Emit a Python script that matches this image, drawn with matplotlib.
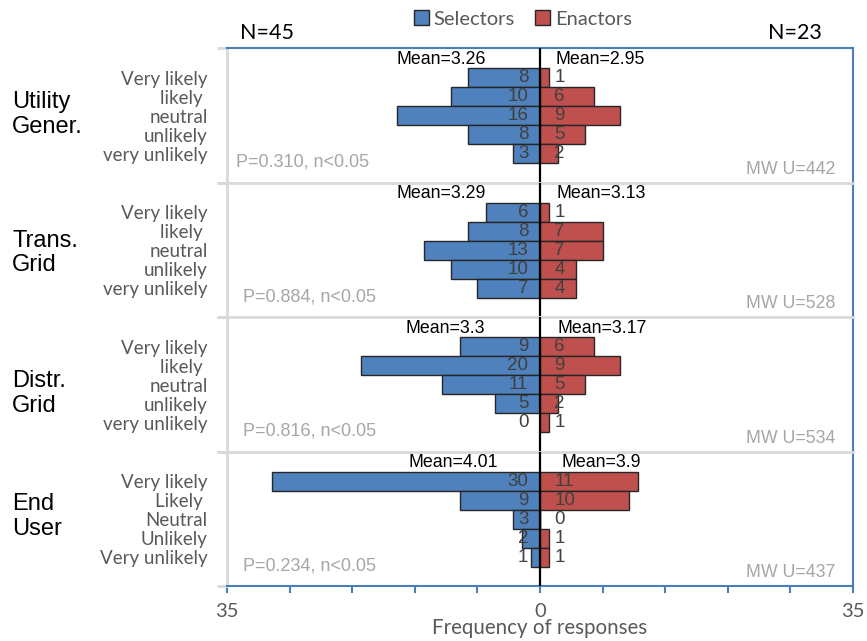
import matplotlib
matplotlib.use("Agg")
import matplotlib.pyplot as plt
from matplotlib.patches import Patch

# ---- data -------------------------------------------------------------
groups = ["Utility\nGener.", "Trans.\nGrid", "Distr.\nGrid", "End\nUser"]
levels_lower = ["Very likely", "likely ", "neutral", "unlikely", "very unlikely"]
levels_upper = ["Very likely", "Likely ", "Neutral", "Unlikely", "Very unlikely"]
selectors = [
    [8, 10, 16, 8, 3],
    [6, 8, 13, 10, 7],
    [9, 20, 11, 5, 0],
    [30, 9, 3, 2, 1],
]
enactors = [
    [1, 6, 9, 5, 2],
    [1, 7, 7, 4, 4],
    [6, 9, 5, 2, 1],
    [11, 10, 0, 1, 1],
]
mean_sel = ["3.26", "3.29", "3.3", "4.01"]
mean_enc = ["2.95", "3.13", "3.17", "3.9"]
p_values = ["0.310", "0.884", "0.816", "0.234"]
mw_u = [442, 528, 534, 437]
n_sel, n_enc = 45, 23
x_ticks = list(range(-35, 36, 7))
x_tick_labels = ["35", "", "", "", "", "0", "", "", "", "", "35"]

# ---- style --------------------------------------------------------------
BLUE = "#4F81BD"
RED = "#C0504D"
AXIS_BLUE = "#4A7EBB"
SEP_GREY = "#D9D9D9"
TXT_GREY = "#595959"
ARIAL = ["Liberation Sans", "DejaVu Sans"]
CALIBRI = ["Lato", "DejaVu Sans"]

fig = plt.figure(figsize=(8.67, 6.41), dpi=100)
W, H = 867, 641
L, R = 227 / W, 853 / W
B, T = 1 - 586 / H, 1 - 48 / H
ph = (T - B) / 4
YTOP = 7.05
ypos = [5.5, 4.5, 3.5, 2.5, 1.5]

# per-panel text placement (data units)
name_y = [3.55, 3.35, 3.05, 3.65]
mean_sel_x = [-11.1, -11.1, -10.6, -9.7]
mean_enc_x = [6.7, 6.8, 7.0, 6.9]
p_x = [-34.0, -33.2, -33.2, -33.2]

axes = []
for i in range(4):
    ax = fig.add_axes([L, T - (i + 1) * ph, R - L, ph])
    axes.append(ax)
    sel = selectors[i]
    enc = enactors[i]
    ax.barh(ypos, sel, left=[-v for v in sel], height=1.0, color=BLUE,
            edgecolor="#262626", linewidth=1.0, zorder=2)
    ax.barh(ypos, enc, left=0, height=1.0, color=RED,
            edgecolor="#262626", linewidth=1.0, zorder=2)
    ax.axvline(0, color="black", lw=1.6, zorder=4)

    for y, v in zip(ypos, sel):
        ax.text(-1.3, y, str(v), ha="right", va="center", fontsize=13.5,
                color="#404040", family=ARIAL, zorder=5)
    for y, v in zip(ypos, enc):
        ax.text(1.6, y, str(v), ha="left", va="center", fontsize=13.5,
                color="#404040", family=ARIAL, zorder=5)

    ax.text(mean_sel_x[i], 6.45, f"Mean={mean_sel[i]}", ha="center",
            va="center", fontsize=12.8, color="black", family=ARIAL, zorder=5)
    ax.text(mean_enc_x[i], 6.45, f"Mean={mean_enc[i]}", ha="center",
            va="center", fontsize=12.8, color="black", family=ARIAL, zorder=5)
    ax.text(p_x[i], 1.05, f"P={p_values[i]}, n<0.05", ha="left", va="center",
            fontsize=13, color="#A6A6A6", family=ARIAL)
    ax.text(33.0, 0.7, f"MW U={mw_u[i]}", ha="right", va="center",
            fontsize=12.8, color="#A6A6A6", family=ARIAL)

    ax.text(-0.343, name_y[i], groups[i], transform=ax.get_yaxis_transform(),
            ha="left", va="center", fontsize=17, color="black",
            family=ARIAL, linespacing=1.15)

    ax.set_xlim(-35, 35)
    ax.set_ylim(0, YTOP)

    labels = levels_upper if i == 3 else levels_lower
    ax.set_yticks(ypos)
    ax.set_yticklabels(labels, family=CALIBRI, fontsize=13.5, color=TXT_GREY)
    ax.tick_params(axis="y", which="major", length=0, pad=14)
    ax.set_yticks([0, YTOP], minor=True)
    ax.tick_params(axis="y", which="minor", length=7, width=2, color=SEP_GREY)

    ax.spines["left"].set_color(SEP_GREY)
    ax.spines["left"].set_linewidth(2)
    ax.spines["right"].set_color(AXIS_BLUE)
    ax.spines["right"].set_linewidth(1.5)
    if i == 0:
        ax.spines["top"].set_color(AXIS_BLUE)
        ax.spines["top"].set_linewidth(1.5)
    else:
        ax.spines["top"].set_color(SEP_GREY)
        ax.spines["top"].set_linewidth(2)
    if i == 3:
        ax.spines["bottom"].set_color(AXIS_BLUE)
        ax.spines["bottom"].set_linewidth(1.5)
        ax.set_xticks(x_ticks)
        ax.set_xticklabels(x_tick_labels, family=CALIBRI, fontsize=14.5,
                           color=TXT_GREY)
        ax.tick_params(axis="x", direction="out", length=5, width=1.5,
                       color=AXIS_BLUE, pad=7)
        ax.set_xlabel("Frequency of responses", family=CALIBRI, fontsize=14.8,
                      color=TXT_GREY, labelpad=-1)
    else:
        ax.spines["bottom"].set_visible(False)
        ax.tick_params(axis="x", bottom=False, labelbottom=False)

fig.text(240 / W, 1 - 33 / H, f"N={n_sel}", ha="left", va="center",
         fontsize=15.5, family=CALIBRI, color="black")
fig.text(822 / W, 1 - 33 / H, f"N={n_enc}", ha="right", va="center",
         fontsize=15.5, family=CALIBRI, color="black")

handles = [Patch(facecolor=BLUE, edgecolor="#262626", lw=1, label="Selectors"),
           Patch(facecolor=RED, edgecolor="#262626", lw=1, label="Enactors")]
leg = fig.legend(handles=handles, loc="center", bbox_to_anchor=(523 / W, 1 - 19 / H),
                 ncol=2, frameon=False, prop={"family": CALIBRI, "size": 14.5},
                 handlelength=0.75, handleheight=0.75, handletextpad=0.25,
                 columnspacing=1.0, borderpad=0)
for t in leg.get_texts():
    t.set_color(TXT_GREY)

fig.savefig("out.png", dpi=100)
